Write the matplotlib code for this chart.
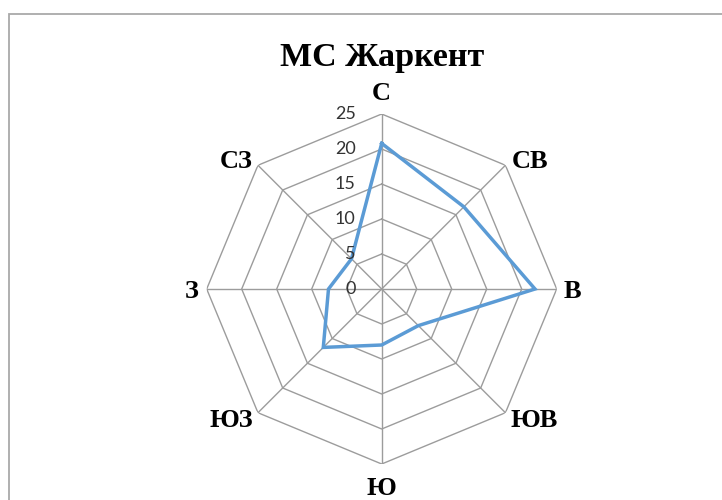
import numpy as np
import matplotlib
matplotlib.use("Agg")
import matplotlib.pyplot as plt
from matplotlib.patches import Rectangle

title = "МС Жаркент"
directions = ["С", "СВ", "В", "ЮВ", "Ю", "ЮЗ", "З", "СЗ"]
values = [20.8, 16.6, 21.9, 7.4, 8.0, 11.8, 7.6, 6.1]
ring_ticks = [0, 5, 10, 15, 20, 25]

# label offsets in pixels (dx, dy) and alignment, relative to outer vertex
label_style = {
    "С":  (0, 14, "center"),
    "СВ": (6, -3, "left"),
    "В":  (7, -9, "left"),
    "ЮВ": (5, -14, "left"),
    "Ю":  (0, -31, "center"),
    "ЮЗ": (-5, -14, "right"),
    "З":  (-8, -9, "right"),
    "СЗ": (-5, -3, "right"),
}

W, H = 722, 500
fig = plt.figure(figsize=(W / 100, H / 100), dpi=100)
fig.patch.set_facecolor("white")

# outer chart frame (extends beyond right/bottom)
fig.add_artist(Rectangle((8.5 / W, -0.1), 1.2, 1 - 13.5 / H + 0.1,
                         transform=fig.transFigure, fill=False,
                         edgecolor="#a9a9a9", linewidth=1.3))

cx, cy, R = 381.7, 289.0, 175.0
ax = fig.add_axes([(cx - R) / W, (H - cy - R) / H, 2 * R / W, 2 * R / H],
                  projection="polar")
ax.set_theta_zero_location("N")
ax.set_theta_direction(-1)
ax.set_ylim(0, ring_ticks[-1])
ax.grid(False)
ax.set_xticks([])
ax.set_yticks([])
ax.spines["polar"].set_visible(False)
ax.patch.set_alpha(0)

n = len(directions)
angles = np.linspace(0, 2 * np.pi, n, endpoint=False)
ang_closed = np.append(angles, angles[0])

grid_color = "#9c9c9c"
for r in ring_ticks[1:]:
    ax.plot(ang_closed, [r] * (n + 1), color=grid_color, lw=1.0, zorder=1)
for a in angles:
    ax.plot([a, a], [0, ring_ticks[-1]], color=grid_color, lw=1.0, zorder=1)

vals_closed = np.append(values, values[0])
ax.plot(ang_closed, vals_closed, color="#5b9bd5", lw=2.5, zorder=3,
        solid_joinstyle="miter")

for v in ring_ticks:
    ax.annotate(str(v), xy=(0, v), xytext=(-26, 0), textcoords="offset pixels",
                ha="right", va="center", fontsize=13, family="Lato",
                color="#333333", zorder=4, annotation_clip=False)

for a, d in zip(angles, directions):
    dx, dy, ha = label_style[d]
    ax.annotate(d, xy=(a, ring_ticks[-1]), xytext=(dx, dy),
                textcoords="offset pixels", ha=ha, va="baseline",
                fontsize=19, fontweight="bold", family="Liberation Serif",
                color="black", annotation_clip=False)

fig.text(cx / W, 1 - 66 / H, title, ha="center", va="baseline",
         fontsize=24.5, fontweight="bold", family="Liberation Serif",
         color="black")

fig.savefig("out.png", dpi=100, facecolor="white")
